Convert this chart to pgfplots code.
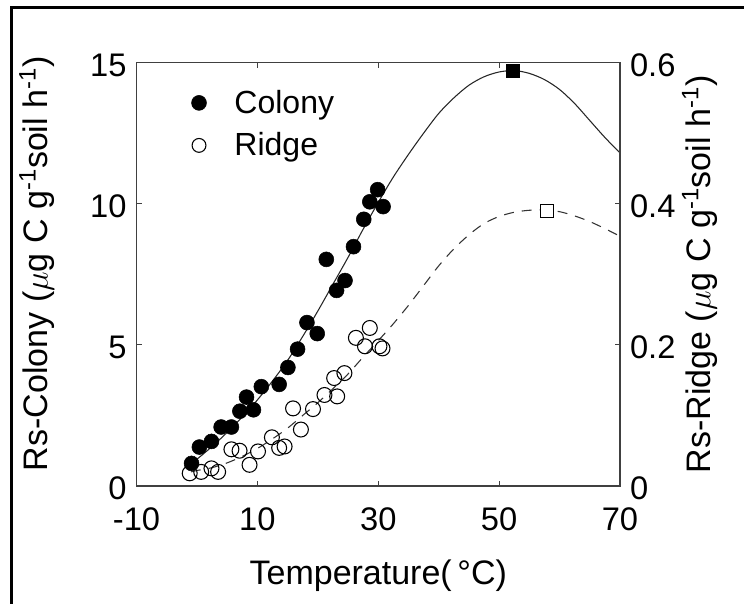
\documentclass[border=0pt]{standalone}
\usepackage{fontspec}
\setmainfont{Liberation Sans}
\usepackage{pgfplots}
\pgfplotsset{compat=1.18}
\begin{document}
\begin{tikzpicture}
\pgfplotsset{
  every axis/.append style={
    scale only axis, width=362.6pt, height=317.5pt,
    at={(102.4pt,88.5pt)}, anchor=south west,
    xmin=-10, xmax=70,
    tick align=inside, major tick length=4pt,
    axis line style={black!75, line width=0.8pt},
    every tick/.style={black!75, line width=0.8pt},
    tick label style={font=\fontsize{24.5}{28}\selectfont},
    label style={font=\fontsize{25.5}{30}\selectfont},
  }
}
% left axis: Colony
\begin{axis}[
  ymin=0, ymax=15,
  xtick={-10,10,30,50,70}, xticklabels={-10,10,30,50,70},
  ytick={0,5,10,15}, yticklabels={0,5,10,15},
  xtick pos=both, ytick pos=left,
  xticklabel style={yshift=-12.5pt},
  yticklabel style={xshift=-4pt, yshift=-2pt},
  xlabel={Temperature(\,°C)},
  ylabel={Rs-Colony ($\mu$g C g\textsuperscript{-1}soil h\textsuperscript{-1})},
  xlabel style={at={(axis description cs:0.5,-0.213)}, anchor=center},
  ylabel style={at={(axis description cs:-0.206,0.525)}, anchor=center},
  legend style={draw=none, fill=none, at={(axis description cs:0.105,0.948)},
    anchor=north west, font=\fontsize{24}{28}\selectfont,
    row sep=9pt, column sep=19pt},
  legend cell align=left,
]
\addplot[black!85, line width=0.8pt, smooth, forget plot] coordinates {
  (-1,0.80) (0,0.95) (2.5,1.40) (5,1.90) (7.5,2.45) (10,3.05) (12.5,3.72)
  (15,4.45) (17.5,5.30) (20,6.20) (22.5,7.15) (25,8.10) (27.5,9.10) (30,10.05)
  (32.5,10.95) (35,11.75) (37.5,12.5) (40,13.2) (42.5,13.75) (45,14.2)
  (47.5,14.5) (50,14.67) (52.5,14.72) (55,14.62) (57.5,14.4) (60,14.05)
  (62.5,13.55) (65,12.95) (67.5,12.35) (70,11.8)
};
\addplot[only marks, mark=*, mark size=5.6pt, black] coordinates {
  (-0.9,0.80) (0.4,1.38) (2.4,1.58) (4.0,2.09) (5.7,2.09) (7.1,2.65)
  (8.2,3.15) (9.35,2.70) (10.65,3.52) (13.6,3.60) (15.05,4.20) (16.65,4.85)
  (18.2,5.79) (19.9,5.40) (21.4,8.03) (23.1,6.93) (24.5,7.28) (25.9,8.48)
  (27.6,9.45) (28.6,10.07) (29.9,10.5) (30.8,9.9)
};
\addlegendentry{Colony}
\addplot[only marks, mark=square*, mark size=4.9pt, black, forget plot] coordinates {(52.2,14.7)};
\addlegendimage{only marks, mark=o, mark size=5.2pt, black, line width=0.8pt}
\addlegendentry{Ridge}
\end{axis}
% right axis: Ridge
\begin{axis}[
  ymin=0, ymax=0.6,
  axis x line=none, axis y line*=right,
  ytick={0,0.2,0.4,0.6}, yticklabels={0,0.2,0.4,0.6},
  yticklabel style={xshift=4pt, yshift=-2pt},
  ylabel={Rs-Ridge ($\mu$g C g\textsuperscript{-1}soil h\textsuperscript{-1})},
  ylabel style={at={(axis description cs:1.165,0.5)}, anchor=center},
]
\addplot[black!80, line width=0.8pt, dash pattern=on 7.5pt off 6pt, smooth] coordinates {
  (-1,0.020) (0,0.022) (2.5,0.026) (5,0.0328) (7.5,0.042) (10,0.0532)
  (12.5,0.0668) (15,0.082) (17.5,0.100) (20,0.118) (22.5,0.138) (25,0.1588)
  (27.5,0.1828) (30,0.206) (32.5,0.230) (35,0.256) (37.5,0.284) (40,0.312)
  (42.5,0.336) (45,0.356) (47.5,0.372) (50,0.382) (52.5,0.388) (55,0.3908)
  (57.5,0.3912) (60,0.3888) (62.5,0.3828) (65,0.3748) (67.5,0.3648) (70,0.354)
};
\addplot[only marks, mark=o, mark size=5.6pt, black, line width=0.8pt] coordinates {
  (-1.2,0.018) (0.7,0.020) (2.4,0.025) (3.5,0.020) (5.7,0.052) (7.05,0.050)
  (8.7,0.030) (10.1,0.049) (12.4,0.069) (13.6,0.054) (14.5,0.056) (15.9,0.110)
  (17.2,0.080) (19.2,0.109) (21.1,0.129) (23.2,0.127) (22.7,0.153) (24.4,0.160)
  (26.3,0.210) (27.8,0.198) (28.6,0.224) (30.2,0.198) (30.7,0.195)
};
\addplot[only marks, mark=square*, mark size=4.9pt, black, line width=0.8pt,
  mark options={fill=white}] coordinates {(57.9,0.39)};
\end{axis}
\draw[line width=2.2pt] (8.8pt,-20pt) rectangle (600pt,447.2pt);
\pgfresetboundingbox
\path[use as bounding box] (0,0) rectangle (558pt,453pt);
\end{tikzpicture}
\end{document}
